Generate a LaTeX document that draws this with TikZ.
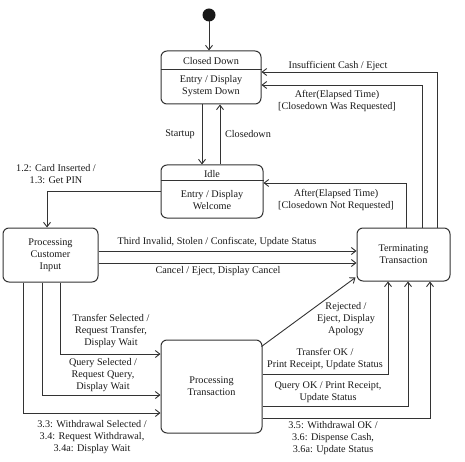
\documentclass[tikz,border=0pt]{standalone}
\usepackage{fontspec}
\setmainfont{Liberation Serif}
\usetikzlibrary{arrows.meta,calc}
\begin{document}
\begin{tikzpicture}[x=1pt,y=-1pt,
  every node/.style={font=\fontsize{10.2}{12}\selectfont, text=black!90, inner sep=0pt},
  statebox/.style={draw=black!80, line width=1pt, rounded corners=6pt, minimum width=#1},
  arr/.style={draw=black!80, line width=0.9pt, -{Straight Barb[length=4.5pt,width=7pt,line width=0.9pt]}},
  lbl/.style={align=center}]
\useasboundingbox (0,0) rectangle (465,462);
% guides
\coordinate (xS) at (202,0);   \coordinate (xC) at (220,0);
\coordinate (xCard) at (47,0);
\coordinate (xT1) at (60,0);   \coordinate (xQ1) at (42,0);  \coordinate (xW1) at (23,0);
\coordinate (xTo) at (388,0);  \coordinate (xQo) at (408,0); \coordinate (xWo) at (430,0);
\coordinate (xA1) at (406,0);  \coordinate (xA2) at (422,0); \coordinate (xIC) at (437,0);
\coordinate (yIC) at (0,72);   \coordinate (yA2) at (0,85);  \coordinate (yA1) at (0,183);
\coordinate (yCard) at (0,191);
\coordinate (yThird) at (0,251); \coordinate (yCancel) at (0,263);
\coordinate (yT1) at (0,354);  \coordinate (yQ1) at (0,395); \coordinate (yW1) at (0,413);
\coordinate (yTo) at (0,374);  \coordinate (yQo) at (0,406); \coordinate (yWo) at (0,418);
\coordinate (yCdDiv) at (0,70); \coordinate (yIdDiv) at (0,181);
% initial
\fill[black!90] (209,15) circle (6.5);
\coordinate (init) at (209,21);
% states
\node[statebox=100pt, minimum height=53pt] (cd) at (211,77.5) {};
\draw[black!80, line width=1pt] (cd.west |- yCdDiv) -- (cd.east |- yCdDiv);
\node (cdname) at (211,61.5) {Closed Down};
\node[lbl] (cdact) at (211,86) {Entry / Display\\System Down};

\node[statebox=102pt, minimum height=53pt] (idle) at (212,191.5) {};
\draw[black!80, line width=1pt] (idle.west |- yIdDiv) -- (idle.east |- yIdDiv);
\node (idlename) at (212,174.5) {Idle};
\node[lbl] (idleact) at (212,200) {Entry / Display\\Welcome};

\node[statebox=95pt, minimum height=54pt, align=center] (pci) at (50.5,255) {Processing\\Customer\\Input};
\node[statebox=93pt, minimum height=53pt, align=center] (tt) at (403.5,254.5) {Terminating\\Transaction};
\node[statebox=101pt, minimum height=93pt, align=center] (pt) at (211.5,386.5) {Processing\\Transaction};

% connectors
\draw[arr] (init) -- (init |- cd.north);
\draw[arr] (cd.south -| xS) -- (idle.north -| xS);
\draw[arr] (idle.north -| xC) -- (cd.south -| xC);
\draw[arr] (idle.west |- yCard) -| (pci.north -| xCard);
\draw[arr] (pci.east |- yThird) -- (tt.west |- yThird);
\draw[arr] (pci.east |- yCancel) -- (tt.west |- yCancel);
\draw[arr] (pci.south -| xT1) |- (pt.west |- yT1);
\draw[arr] (pci.south -| xQ1) |- (pt.west |- yQ1);
\draw[arr] (pci.south -| xW1) |- (pt.west |- yW1);
\draw[arr] ($(pt.north east)+(-1,7)$) -- ($(tt.south west)+(-1,-4)$);
\draw[arr] (pt.east |- yTo) -| (tt.south -| xTo);
\draw[arr] (pt.east |- yQo) -| (tt.south -| xQo);
\draw[arr] (pt.east |- yWo) -| (tt.south -| xWo);
\draw[arr] (tt.north -| xA1) |- (idle.east |- yA1);
\draw[arr] (tt.north -| xA2) |- (cd.east |- yA2);
\draw[arr] (tt.north -| xIC) |- (cd.east |- yIC);

% labels
\node (lStart) at (180,134) {Startup};
\node (lClose) at (248,134) {Closedown};
\node[lbl] (lCard) at (56,174.5) {1.2: Card Inserted /\\1.3: Get PIN};
\node (lIC) at (338,66) {Insufficient Cash / Eject};
\node[lbl] (lA2) at (337,100.5) {After(Elapsed Time)\\{}[Closedown Was Requested]};
\node[lbl] (lA1) at (336,200) {After(Elapsed Time)\\{}[Closedown Not Requested]};
\node (lThird) at (217,241.5) {Third Invalid, Stolen / Confiscate, Update Status};
\node (lCancel) at (218,271.5) {Cancel / Eject, Display Cancel};
\node[lbl] (lT1) at (111,331.5) {Transfer Selected /\\Request Transfer,\\Display Wait};
\node[lbl] (lQ1) at (103,375.5) {Query Selected /\\Request Query,\\Display Wait};
\node[lbl] (lW1) at (92,437) {3.3: Withdrawal Selected /\\3.4: Request Withdrawal,\\3.4a: Display Wait};
\node[lbl] (lRej) at (346,319) {Rejected /\\Eject, Display\\Apology};
\node[lbl] (lTo) at (325,359) {Transfer OK /\\Print Receipt, Update Status};
\node[lbl] (lQo) at (328,392) {Query OK / Print Receipt,\\Update Status};
\node[lbl] (lWo) at (333,438) {3.5: Withdrawal OK /\\3.6: Dispense Cash,\\3.6a: Update Status};
\end{tikzpicture}
\end{document}
